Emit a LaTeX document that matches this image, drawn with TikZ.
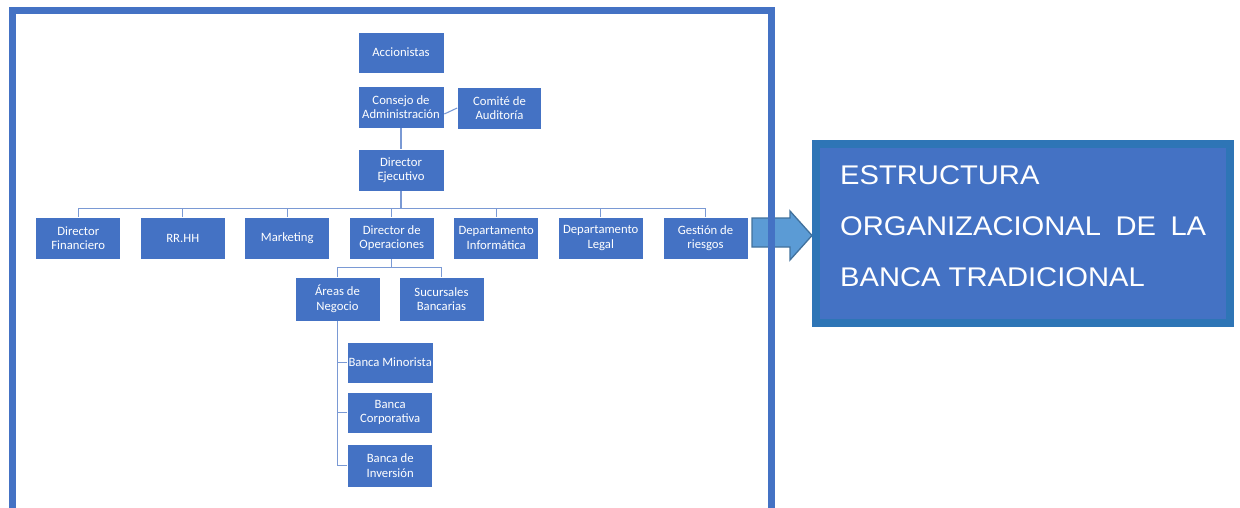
\documentclass[tikz,border=0pt]{standalone}
\usepackage{fontspec}
\setmainfont{Carlito}
\newfontfamily\titlefont[FakeStretch=1.08]{Liberation Sans}
\usetikzlibrary{calc}
\definecolor{boxblue}{HTML}{4472C4}
\definecolor{frameblue}{HTML}{4472C4}
\definecolor{titleborder}{HTML}{2E75B6}
\definecolor{arrowfill}{HTML}{5B9BD5}
\definecolor{arrowdraw}{HTML}{41719C}
\definecolor{linkblue}{HTML}{7A99D4}
\tikzset{
  orgbox/.style={rectangle, fill=boxblue, draw=white, line width=0.7pt, text=white,
    minimum width=85pt, minimum height=42pt, inner sep=1pt, align=center,
    font=\fontsize{12.7}{14.5}\selectfont},
  link/.style={draw=linkblue, line width=1.1pt},
  frame/.style={draw=frameblue, line width=7pt},
}
\begin{document}
\begin{tikzpicture}[x=1pt,y=-1pt]
\useasboundingbox (0,0) rectangle (1240,508);
% arrow
\fill[arrowfill, draw=arrowdraw, line width=1.3pt]
  (752,218) -- (790,218) -- (790,211) -- (812,235.5) -- (790,260) -- (790,247) -- (752,247) -- cycle;
% frame
\draw[frame] (12.5,530) -- (12.5,11) -- (771,11) -- (771,530);
% title
\node[rectangle, fill=boxblue, draw=titleborder, line width=8pt,
      minimum width=414pt, minimum height=179pt] (title) at (1023,233.5) {};
\node[anchor=north west, inner sep=0pt, text=white, align=left,
      font=\titlefont\fontsize{27}{51}\selectfont] (titletext) at (840,165.8)
  {ESTRUCTURA\\ \makebox[366pt][s]{ORGANIZACIONAL DE LA}\\ BANCA TRADICIONAL};
% boxes
\node[orgbox, minimum width=86pt, minimum height=41pt] (acc) at (401,52.5) {Accionistas};
\node[orgbox, minimum width=86pt] (con) at (401,107) {Consejo de\\Administración};
\node[orgbox, minimum width=84pt] (com) at (499.5,108) {Comité de\\Auditoría};
\node[orgbox, minimum width=86pt] (de) at (401,170) {Director\\Ejecutivo};
\node[orgbox] (b1) at (78.25,238) {Director\\Financiero};
\node[orgbox] (b2) at (182.75,238) {RR.HH};
\node[orgbox] (b3) at (287.25,238) {Marketing};
\node[orgbox] (b4) at (391.75,238) {Director de\\Operaciones};
\node[orgbox] (b5) at (496.25,238) {Departamento\\Informática};
\node[orgbox] (b6) at (600.75,238) {Departamento\\Legal};
\node[orgbox] (b7) at (705.5,238) {Gestión de\\riesgos};
\node[orgbox, minimum height=44pt] (areas) at (337.5,299) {Áreas de\\Negocio};
\node[orgbox, minimum height=44pt] (suc) at (441.5,299) {Sucursales\\Bancarias};
\node[orgbox, minimum height=41pt] (bm) at (390.2,362.5) {Banca Minorista};
\node[orgbox, minimum height=41pt] (bc) at (390.2,412.5) {Banca\\Corporativa};
\node[orgbox, minimum height=43pt] (bi) at (390.2,465.5) {Banca de\\Inversión};
% connectors
\draw[link] ($(con.east)+(0,7)$) -- ($(com.west)+(0,0)$);
\draw[link] (con.south) -- (de.north);
\coordinate (bus) at ($(de.south)+(0,17)$);
\draw[link] (de.south) -- (bus);
\foreach \b in {b1,b2,b3,b4,b5,b6,b7} { \draw[link] (bus) -| (\b.north); }
\coordinate (bus2) at ($(b4.south)+(0,8)$);
\draw[link] (b4.south) -- (bus2);
\draw[link] (bus2) -| (areas.north);
\draw[link] (bus2) -| (suc.north);
\draw[link] (areas.south) |- (bm.west);
\draw[link] (areas.south) |- (bc.west);
\draw[link] (areas.south) |- (bi.west);
\end{tikzpicture}
\end{document}
